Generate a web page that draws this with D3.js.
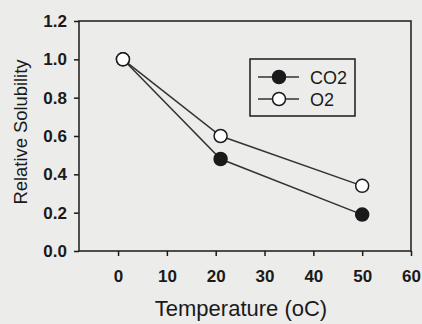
<!DOCTYPE html>
<html>
<head>
<meta charset="utf-8">
<script src="https://cdn.jsdelivr.net/npm/d3@7"></script>
<style>
  body { margin: 0; background: #ececea; }
  svg { display: block; font-family: "Liberation Sans", Arial, sans-serif; }
</style>
</head>
<body>
<svg id="chart" width="422" height="324"></svg>
<script>
// values
var temps = [1, 21, 50];
var co2 = [1.0, 0.48, 0.19];
var o2 = [1.0, 0.6, 0.34];
var xTicks = [0, 10, 20, 30, 40, 50, 60];
var yTicks = [0.0, 0.2, 0.4, 0.6, 0.8, 1.0, 1.2];

var svg = d3.select("#chart");
var ink = "#1a1a1a";

var mLeft = 79, mRight = 411, mTop = 21, mBottom = 251;

var x = d3.scaleLinear().domain([-8, 60]).range([mLeft, mRight]);
var y = d3.scaleLinear().domain([0, 1.2]).range([mBottom, mTop]);

// frame
svg.append("rect")
    .attr("x", mLeft).attr("y", mTop)
    .attr("width", mRight - mLeft).attr("height", mBottom - mTop)
    .attr("fill", "none").attr("stroke", ink).attr("stroke-width", 1.5);

// axes
var xAxis = svg.append("g")
    .attr("transform", "translate(0," + mBottom + ")")
    .call(d3.axisBottom(x).tickValues(xTicks).tickSize(5).tickPadding(14).tickFormat(d3.format("d")));
var yAxis = svg.append("g")
    .attr("transform", "translate(" + mLeft + ",0)")
    .call(d3.axisLeft(y).tickValues(yTicks).tickSize(5).tickPadding(7).tickFormat(d3.format(".1f")));

[xAxis, yAxis].forEach(function(g) {
    g.select(".domain").remove();
    g.selectAll(".tick line").attr("stroke", ink).attr("stroke-width", 1.5);
    g.selectAll(".tick text").attr("fill", ink).style("font-size", "17px").style("font-weight", "bold");
});

// axis titles
svg.append("text")
    .attr("x", 241).attr("y", 316)
    .attr("text-anchor", "middle")
    .attr("fill", ink)
    .style("font-size", "22px")
    .text("Temperature (oC)");

svg.append("text")
    .attr("transform", "translate(27,132) rotate(-90)")
    .attr("text-anchor", "middle")
    .attr("fill", ink)
    .style("font-family", "'Liberation Sans Narrow', 'Liberation Sans', sans-serif")
    .style("font-size", "19px")
    .attr("textLength", 145)
    .attr("lengthAdjust", "spacingAndGlyphs")
    .text("Relative Solubility");

var line = d3.line()
    .x(function(d) { return x(d[0]); })
    .y(function(d) { return y(d[1]); });

var series = [
    { name: "CO2", values: co2, fill: ink },
    { name: "O2", values: o2, fill: "#ffffff" }
];

series.forEach(function(s) {
    var pts = temps.map(function(t, i) { return [t, s.values[i]]; });
    svg.append("path")
        .datum(pts)
        .attr("d", line)
        .attr("fill", "none")
        .attr("stroke", "#333")
        .attr("stroke-width", 1.5);
});

// markers drawn after lines
series.forEach(function(s) {
    svg.selectAll(null)
        .data(temps.map(function(t, i) { return [t, s.values[i]]; }))
        .enter().append("circle")
        .attr("cx", function(d) { return x(d[0]); })
        .attr("cy", function(d) { return y(d[1]); })
        .attr("r", 6.5)
        .attr("fill", s.fill)
        .attr("stroke", ink)
        .attr("stroke-width", 1.5);
});

// legend
var legend = svg.append("g").attr("transform", "translate(250,59)");
legend.append("rect")
    .attr("width", 105).attr("height", 57)
    .attr("fill", "none").attr("stroke", ink).attr("stroke-width", 1.5);

series.forEach(function(s, i) {
    var ly = 18 + i * 22;
    legend.append("line")
        .attr("x1", 8).attr("x2", 49).attr("y1", ly).attr("y2", ly)
        .attr("stroke", "#333").attr("stroke-width", 1.5);
    legend.append("circle")
        .attr("cx", 29).attr("cy", ly).attr("r", 6.5)
        .attr("fill", s.fill).attr("stroke", ink).attr("stroke-width", 1.5);
    legend.append("text")
        .attr("x", 60).attr("y", ly + 6.5)
        .attr("fill", ink)
        .style("font-size", "18px")
        .text(s.name);
});
</script>
</body>
</html>
